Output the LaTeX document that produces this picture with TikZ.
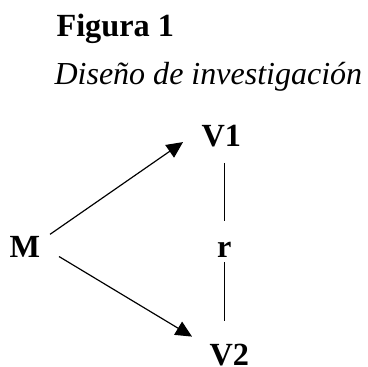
\documentclass[tikz,border=0pt]{standalone}
\usepackage{fontspec}
\setmainfont{Liberation Serif}
\usepackage{tikz}
\usetikzlibrary{arrows.meta}
\tikzset{
title_text/.style={inner sep=0, anchor=base west, font=\fontsize{12.3pt}{14pt}\selectfont\bfseries},
subtitle_text/.style={inner sep=0, anchor=base west, font=\fontsize{12.2pt}{14pt}\selectfont\itshape},
var_node/.style={inner sep=0, anchor=base west, font=\fontsize{12.3pt}{14pt}\selectfont\bfseries},
arrow_line/.style={line width=0.45pt, -{Triangle[length=6.2pt,width=5.8pt]}},
link_line/.style={line width=0.45pt}
}

\begin{document}
\begin{tikzpicture}[x=0.381pt, y=-0.381pt]
    \useasboundingbox (0,0) rectangle (367,367);
    \node[title_text] (title_1) at (56,37) {Figura 1};
    \node[subtitle_text] (subtitle_1) at (54,85) {Diseño de investigación};
    \node[var_node] (sample) at (9,257) {M};
    \node[var_node] (var_1) at (201,147) {V1};
    \node[var_node] (corr) at (216.5,257) {r};
    \node[var_node] (var_2) at (209,365) {V2};
    \draw[arrow_line] ([shift={(9.5,-1)}]sample.north east) -- ([shift={(-18,5.5)}]var_1.west);
    \draw[arrow_line] ([shift={(18.5,-1)}]sample.south east) -- ([shift={(-17,-6.5)}]var_2.north west);
    \draw[link_line, shorten <=5.7pt, shorten >=7.8pt] (corr.north |- var_1.south) -- (corr.north);
    \draw[link_line, shorten <=1.8pt, shorten >=8.5pt] (corr.south) -- (corr.south |- var_2.north);
\end{tikzpicture}
\end{document}
